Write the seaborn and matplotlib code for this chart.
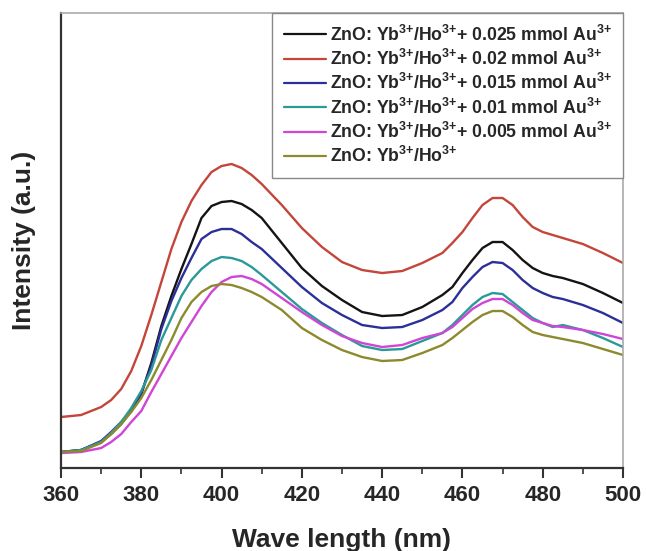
import matplotlib
matplotlib.use("Agg")
import matplotlib.pyplot as plt
import numpy as np
import pandas as pd
import seaborn as sns
from matplotlib.ticker import MultipleLocator

# wavelength grid (nm)
wavelength = [360, 365, 370, 372.5, 375, 377.5, 380, 382.5, 385, 387.5, 390, 392.5,
              395, 397.5, 400, 402.5, 405, 407.5, 410, 415, 420, 425, 430, 435,
              440, 445, 450, 455, 457.5, 460, 462.5, 465, 467.5, 470, 472.5, 475,
              477.5, 480, 482.5, 485, 490, 495, 500]

# intensities (a.u.)
au_025 = [16, 18, 26, 34, 44, 57, 74, 105, 142, 172, 199, 224,
          250, 262, 266, 267, 264, 258, 250, 225, 200, 182, 168, 156,
          152, 153, 161, 173, 181, 195, 208, 220, 226, 226, 218, 208,
          200, 195, 192, 190, 184, 175, 165]
au_020 = [51, 53, 61, 68, 79, 97, 122, 153, 186, 219, 246, 267,
          283, 296, 302, 304, 300, 293, 284, 263, 240, 221, 206, 198,
          195, 197, 205, 215, 225, 236, 250, 263, 270, 270, 263, 251,
          241, 236, 233, 230, 224, 215, 205]
au_015 = [16, 18, 27, 36, 46, 57, 75, 102, 139, 167, 190, 210,
          229, 236, 239, 239, 234, 226, 219, 200, 181, 165, 153, 143,
          140, 141, 148, 158, 166, 180, 191, 201, 206, 205, 198, 188,
          180, 175, 171, 169, 163, 155, 145]
au_010 = [16, 18, 26, 35, 46, 60, 77, 98, 128, 150, 172, 188,
          199, 207, 211, 210, 207, 201, 193, 176, 159, 145, 133, 122,
          118, 119, 127, 135, 143, 153, 163, 171, 175, 174, 166, 158,
          150, 145, 141, 143, 138, 130, 121]
au_005 = [15, 16, 20, 26, 34, 46, 57, 76, 94, 112, 130, 146,
          162, 176, 186, 191, 192, 189, 184, 170, 156, 143, 132, 125,
          121, 123, 130, 135, 141, 150, 159, 165, 169, 169, 163, 155,
          148, 145, 142, 141, 138, 134, 129]
au_000 = [16, 17, 25, 34, 44, 56, 70, 88, 108, 128, 150, 166,
          176, 182, 184, 183, 180, 176, 171, 158, 140, 128, 118, 111,
          107, 108, 115, 123, 130, 138, 146, 153, 157, 157, 151, 143,
          136, 133, 131, 129, 125, 119, 113]

base = r"ZnO: Yb$^{3{+}}$/Ho$^{3{+}}$"
labels = [base + r"+ 0.025 mmol Au$^{3{+}}$",
          base + r"+ 0.02 mmol Au$^{3{+}}$",
          base + r"+ 0.015 mmol Au$^{3{+}}$",
          base + r"+ 0.01 mmol Au$^{3{+}}$",
          base + r"+ 0.005 mmol Au$^{3{+}}$",
          base]
series = [au_025, au_020, au_015, au_010, au_005, au_000]
colors = ["#141414", "#c4453a", "#2b2f98", "#2a9a98", "#cf45d6", "#8c8a2c"]

frames = []
for lab, vals in zip(labels, series):
    frames.append(pd.DataFrame({"wavelength": wavelength, "intensity": vals, "sample": lab}))
df = pd.concat(frames, ignore_index=True)

sns.set_style("white", {"xtick.bottom": True})
plt.rcParams["font.family"] = ["Liberation Sans", "DejaVu Sans"]
plt.rcParams["font.weight"] = "bold"
plt.rcParams["mathtext.fontset"] = "custom"
plt.rcParams["mathtext.rm"] = "Liberation Sans:bold"
plt.rcParams["mathtext.it"] = "Liberation Sans:bold"
plt.rcParams["mathtext.bf"] = "Liberation Sans:bold"

fig = plt.figure(figsize=(6.46, 5.51), dpi=100)
ax = fig.add_axes([0.0944, 0.1506, 0.87, 0.8258])

sns.lineplot(data=df, x="wavelength", y="intensity", hue="sample", hue_order=labels,
             palette=dict(zip(labels, colors)), linewidth=1.7, ax=ax, legend=False)
for line in ax.get_lines():
    line.set_solid_joinstyle("round")

ax.set_xlim(360, 500)
ax.set_ylim(0, 455)
ax.xaxis.set_major_locator(MultipleLocator(20))
ax.xaxis.set_minor_locator(MultipleLocator(10))
ax.set_yticks([])
ax.tick_params(axis="x", which="major", direction="out", length=7, width=1.5,
               color="#333333", bottom=True, labelsize=16, pad=5)
ax.tick_params(axis="x", which="minor", direction="out", length=4, width=1.2,
               color="#333333", bottom=True)
for lab in ax.get_xticklabels():
    lab.set_fontweight("bold")

for side in ["left", "bottom"]:
    ax.spines[side].set_color("#333333")
    ax.spines[side].set_linewidth(1.6)
for side in ["top", "right"]:
    ax.spines[side].set_color("#aaaaaa")
    ax.spines[side].set_linewidth(1.2)

ax.set_xlabel("Wave length (nm)", fontsize=19, fontweight="bold", labelpad=16)
ax.set_ylabel("Intensity (a.u.)", fontsize=19, fontweight="bold", labelpad=18)

handles = [plt.Line2D([0], [0], color=c, linewidth=1.6) for c in colors]
leg = ax.legend(handles, labels, loc="upper right", bbox_to_anchor=(1.0, 1.0),
                borderaxespad=0, fancybox=False, framealpha=1, edgecolor="#888888",
                prop={"size": 12.7, "weight": "bold"}, handlelength=2.4,
                handletextpad=0.2, labelspacing=0.24, borderpad=0.65)
leg.get_frame().set_linewidth(1.0)

fig.savefig("out.png", dpi=100)
